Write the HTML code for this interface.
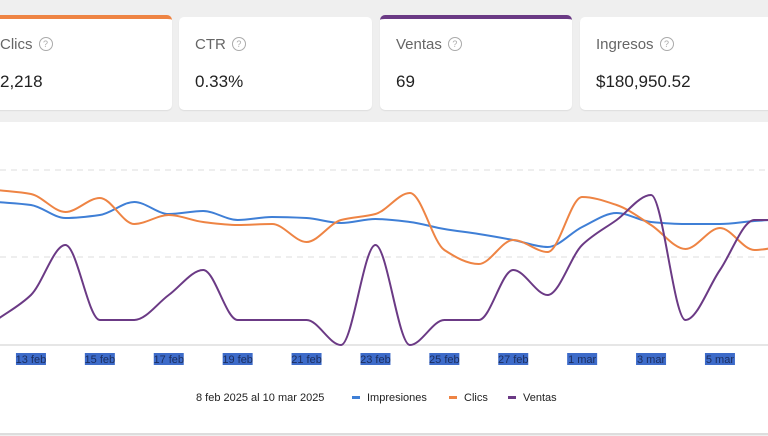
<!DOCTYPE html>
<html><head><meta charset="utf-8"><style>
body{margin:0;width:768px;height:436px;overflow:hidden;background:#efefef;font-family:"Liberation Sans",sans-serif;position:relative}
.card{position:absolute;top:17px;height:93px;background:#fff;border-radius:5px;box-shadow:0 1px 1px #ddd;box-sizing:border-box}
.card .t{position:absolute;left:16px;top:19px;font-size:15px;color:#666}
.card .v{position:absolute;left:16px;top:55px;font-size:17px;color:#222}
.q{display:inline-block;width:12px;height:12px;border:1px solid #aaa;border-radius:50%;font-size:9px;color:#aaa;text-align:center;line-height:12px;margin-left:6px;vertical-align:2px}
#panel{position:absolute;left:0;top:122px;width:768px;height:311px;background:#fff;border-bottom:2px solid #ddd}
svg{position:absolute;left:0;top:0}
</style></head><body>
<div class="card" style="left:-20px;width:192px;border-top:4px solid #ee8444;top:15px;height:95px"><div class="t" style="left:20px;top:17px">Clics<span class="q">?</span></div><div class="v" style="left:20px;top:53px">2,218</div></div>
<div class="card" style="left:179px;width:193px"><div class="t">CTR<span class="q">?</span></div><div class="v">0.33%</div></div>
<div class="card" style="left:380px;width:192px;border-top:4px solid #6b3a85;top:15px;height:95px"><div class="t" style="top:17px">Ventas<span class="q">?</span></div><div class="v" style="top:53px">69</div></div>
<div class="card" style="left:580px;width:200px"><div class="t">Ingresos<span class="q">?</span></div><div class="v">$180,950.52</div></div>
<div id="panel"></div>
<svg id="chart" width="768" height="436"></svg>
<script>
const dates=["12 feb","13 feb","14 feb","15 feb","16 feb","17 feb","18 feb","19 feb","20 feb","21 feb","22 feb","23 feb","24 feb","25 feb","26 feb","27 feb","28 feb","1 mar","2 mar","3 mar","4 mar","5 mar","6 mar","7 mar"];
const impresiones=[1430,1400,1270,1300,1430,1310,1340,1250,1280,1270,1220,1260,1230,1160,1110,1050,980,1180,1320,1230,1210,1210,1240,1260];
const clics=[155,151,133,147,121,130,123,120,121,103,125,131,152,95,81,105,93,148,140,120,96,117,95,100];
const ventas=[1,2,4,1,1,2,3,1,1,1,0,4,0,1,1,3,2,4,5,6,1,3,5,5];
const tickLabels=["13 feb","15 feb","17 feb","19 feb","21 feb","23 feb","25 feb","27 feb","1 mar","3 mar","5 mar"];
const NS="http://www.w3.org/2000/svg",svg=document.getElementById('chart');
const x0=-3.5,dx=34.45,yBase=345;
const xs=i=>x0+i*dx;
const yImp=v=>yBase-v*0.1, yCl=v=>yBase-v*1.0, yV=v=>yBase-v*25;
function el(t,a){const e=document.createElementNS(NS,t);for(const k in a)e.setAttribute(k,a[k]);svg.appendChild(e);return e;}
[170,257].forEach((y,i)=>{const g=el('line',{x1:0,x2:768,y1:y,y2:y,stroke:'#ddd','stroke-dasharray':'6,5'});

});
const ax=el('line',{x1:0,x2:768,y1:345,y2:345,stroke:'#ccc'});


function path(vals,fy){const p=vals.map((v,i)=>[xs(i),fy(v)]);const n=p.length;
const s=[];for(let i=0;i<n-1;i++)s.push((p[i+1][1]-p[i][1])/(p[i+1][0]-p[i][0]));
const m=[];for(let i=0;i<n;i++){if(i==0)m.push(s[0]);else if(i==n-1)m.push(s[n-2]);else{const a=s[i-1],b=s[i];m.push(a*b<=0?0:2/(1/a+1/b));}}
let d='M'+p[0];
for(let i=0;i<n-1;i++){const h=(p[i+1][0]-p[i][0])/3;
d+=' C'+(p[i][0]+h)+','+(p[i][1]+m[i]*h)+' '+(p[i+1][0]-h)+','+(p[i+1][1]-m[i+1]*h)+' '+p[i+1];}return d;}
const s1=el('path',{d:path(impresiones,yImp),fill:'none',stroke:'#3f7fd6','stroke-width':2});


const s2=el('path',{d:path(clics,yCl),fill:'none',stroke:'#ee8444','stroke-width':2});


const s3=el('path',{d:path(ventas,yV),fill:'none',stroke:'#6b3a85','stroke-width':2});


tickLabels.forEach(l=>{const i=dates.indexOf(l),x=xs(i);
const r=el('rect',{x:x-15,y:353,width:30,height:12,fill:'#3d6bc9'});


const t=el('text',{x:x,y:363,'text-anchor':'middle','font-size':11,fill:'#1b2d5e'});t.textContent=l;

});
const lt=el('text',{x:196,y:401,'font-size':11,fill:'#222'});lt.textContent='8 feb 2025 al 10 mar 2025';


[['Impresiones','#3f7fd6',352],['Clics','#ee8444',449],['Ventas','#6b3a85',508]].forEach(([n,c,x])=>{
const g=el('g',{});

const m=document.createElementNS(NS,'rect');m.setAttribute('x',x);m.setAttribute('y',396);m.setAttribute('width',8);m.setAttribute('height',3);m.setAttribute('fill',c);g.appendChild(m);
const t=document.createElementNS(NS,'text');t.setAttribute('x',x+15);t.setAttribute('y',401);t.setAttribute('font-size',11);t.setAttribute('fill','#222');t.textContent=n;g.appendChild(t);});
</script>
</body></html>
